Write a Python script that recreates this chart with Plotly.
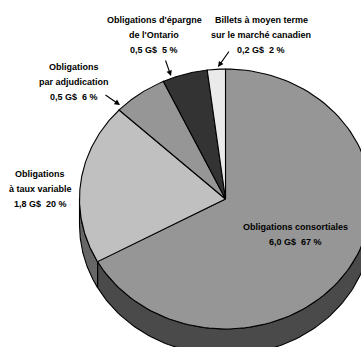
import numpy as np
import plotly.graph_objects as go

# Data
categories = ["Obligations consortiales", "Obligations à taux variable",
              "Obligations par adjudication", "Obligations d'épargne de l'Ontario",
              "Billets à moyen terme sur le marché canadien"]
shares = [67, 20, 6, 5, 2]
top_colors = ["#969696", "#c0c0c0", "#969696", "#333333", "#eaeaea"]
side_colors = ["#4a4a4a", "#666666", "#4a4a4a", "#222222", "#999999"]

label_lines = [
    ["Obligations consortiales", "6,0 G$  67 %"],
    ["Obligations", "à taux variable", "1,8 G$  20 %"],
    ["Obligations", "par adjudication", "0,5 G$  6 %"],
    ["Obligations d'épargne", "de l'Ontario", "0,5 G$  5 %"],
    ["Billets à moyen terme", "sur le marché canadien", "0,2 G$  2 %"],
]
label_centers = [(295, 234.5), (40, 189), (74, 81.5), (154, 35), (261, 34.5)]
arrows = [None, None, ((104, 94), (120, 105)), ((165, 59), (171, 76)), ((230, 50), (218, 67))]

# Geometry
CX, CY, RX, RY, DEPTH = 225.5, 199, 146, 130, 26
LINE_H = 15
FONT = dict(family="Liberation Sans", size=9, color="#000000")

fractions = np.cumsum([0] + shares) / sum(shares)


def ring(a, b, n=120):
    t = np.linspace(a, b, n) * 2 * np.pi
    return CX + RX * np.sin(t), CY - RY * np.cos(t)


fig = go.Figure()
# side wall: only the front half (fractions .25 to .75) is visible
for i, name in enumerate(categories):
    a, b = max(fractions[i], 0.25), min(fractions[i + 1], 0.75)
    if a >= b:
        continue
    x, y = ring(a, b)
    fig.add_trace(go.Scatter(
        x=np.r_[x, x[::-1], x[0]], y=np.r_[y, y[::-1] + DEPTH, y[0]],
        fill="toself", fillcolor=side_colors[i], mode="lines",
        line=dict(color="#000000", width=1.1), hoverinfo="skip", showlegend=False))
# top surface
for i, name in enumerate(categories):
    x, y = ring(fractions[i], fractions[i + 1])
    fig.add_trace(go.Scatter(
        x=np.r_[CX, x, CX], y=np.r_[CY, y, CY],
        fill="toself", fillcolor=top_colors[i], mode="lines", name=name,
        line=dict(color="#000000", width=1.1), showlegend=False))

annotations = []
for lines, (lx, ly) in zip(label_lines, label_centers):
    for k, line in enumerate(lines):
        annotations.append(dict(
            x=lx, y=ly + (k - (len(lines) - 1) / 2) * LINE_H, text=f"<b>{line}</b>",
            showarrow=False, font=FONT, xanchor="center", yanchor="middle"))
for arrow in arrows:
    if arrow:
        (x0, y0), (x1, y1) = arrow
        annotations.append(dict(
            ax=x0, ay=y0, axref="x", ayref="y", x=x1, y=y1, xref="x", yref="y", text="",
            showarrow=True, arrowhead=2, arrowsize=1, arrowwidth=1.1, arrowcolor="#000000"))

fig.update_layout(
    width=361, height=347, margin=dict(l=0, r=0, t=0, b=0),
    paper_bgcolor="#ffffff", plot_bgcolor="#ffffff",
    xaxis=dict(range=[0, 361], visible=False, fixedrange=True),
    yaxis=dict(range=[347, 0], visible=False, fixedrange=True),
    annotations=annotations, showlegend=False)

fig.write_html("out.html", config=dict(displayModeBar=False),
               post_script="document.body.style.margin='0';document.body.style.overflow='hidden';")
